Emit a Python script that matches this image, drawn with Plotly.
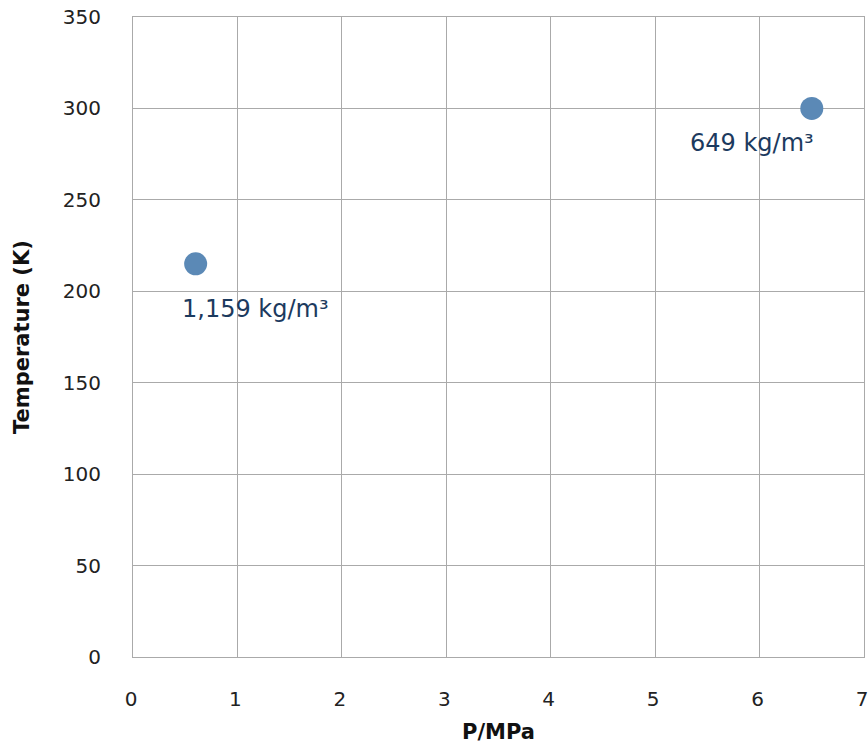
import plotly.graph_objects as go

pressure = [0.6, 6.5]
temperature = [215, 300]
labels = ["1,159 kg/m³", "649 kg/m³"]
x_ticks = [0, 1, 2, 3, 4, 5, 6, 7]
y_ticks = [0, 50, 100, 150, 200, 250, 300, 350]

FONT = "DejaVu Sans, sans-serif"

fig = go.Figure()
fig.add_trace(go.Scatter(
    x=pressure, y=temperature, mode="markers",
    marker=dict(size=23, color="#5b89b6"),
    showlegend=False, hoverinfo="skip",
))

label_shifts = [(60, -45), (-60, -35)]
for xv, yv, txt, (dx, dy) in zip(pressure, temperature, labels, label_shifts):
    fig.add_annotation(x=xv, y=yv, text=txt, showarrow=False,
                       xanchor="center", yanchor="middle", xshift=dx, yshift=dy,
                       font=dict(size=24, color="#1c3a5e", family=FONT))

# axis titles
fig.add_annotation(xref="paper", yref="paper", x=0.5, y=0, yshift=-75,
                   text="<b>P/MPa</b>", showarrow=False, xanchor="center", yanchor="middle",
                   font=dict(size=21, color="#111111", family=FONT))
fig.add_annotation(xref="paper", yref="paper", x=0, y=0.5, xshift=-111,
                   text="<b>Temperature (K)</b>", showarrow=False, textangle=-90,
                   xanchor="center", yanchor="middle",
                   font=dict(size=21, color="#111111", family=FONT))

axis_common = dict(showgrid=True, gridcolor="#aaaaaa", gridwidth=1,
                   showline=True, linecolor="#aaaaaa", linewidth=1, mirror=True,
                   zeroline=False, ticks="outside", tickcolor="rgba(0,0,0,0)",
                   ticklabeloverflow="allow",
                   tickfont=dict(size=20, color="#222222", family=FONT))

fig.update_xaxes(range=[0, 7], tickmode="array", tickvals=x_ticks, ticklen=24,
                 ticklabelshift=-2, **axis_common)
fig.update_yaxes(range=[0, 350], tickmode="array", tickvals=y_ticks, ticklen=27, **axis_common)

fig.update_layout(
    width=868, height=746,
    margin=dict(l=133, r=4, t=17, b=89, autoexpand=False),
    plot_bgcolor="white", paper_bgcolor="white",
    font=dict(family=FONT),
)

fig.write_html("out.html", config={"displayModeBar": False},
               post_script="document.body.style.margin='0';document.body.style.overflow='hidden';")
